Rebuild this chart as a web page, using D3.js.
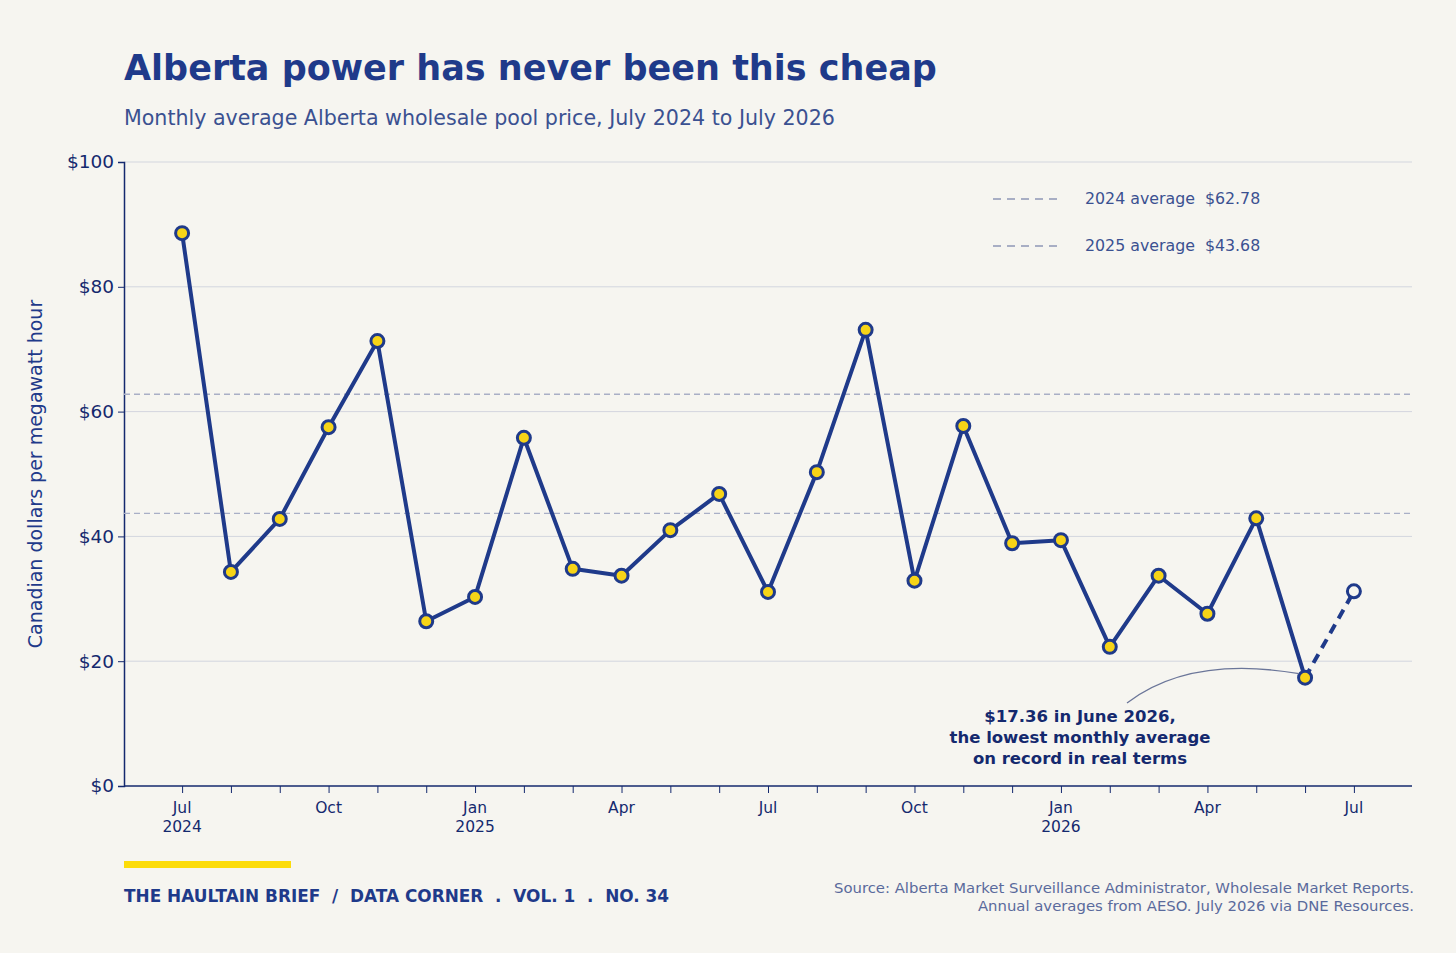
<!DOCTYPE html>
<html><head><meta charset="utf-8">
<script src="https://cdn.jsdelivr.net/npm/d3@7"></script>
<style>
body{margin:0;background:#f6f5f0;}
text{font-family:"DejaVu Sans",sans-serif;white-space:pre;}
</style></head><body>
<svg id="chart" width="1456" height="953"></svg>
<script>
var months = ["Jul","Aug","Sep","Oct","Nov","Dec","Jan","Feb","Mar","Apr","May","Jun",
              "Jul","Aug","Sep","Oct","Nov","Dec","Jan","Feb","Mar","Apr","May","Jun","Jul"];
var years = {0:"2024",6:"2025",18:"2026"};
var prices = [88.6,34.3,42.8,57.5,71.3,26.4,30.3,55.8,34.8,33.7,41.0,46.8,
              31.1,50.3,73.1,32.9,57.7,38.9,39.4,22.3,33.7,27.6,42.9,17.36,31.2];
var averages = [{label:"2024 average  $62.78", value:62.78},{label:"2025 average  $43.68", value:43.68}];
var yTicks = [0,20,40,60,80,100];

var navy = "#1f3a8a", dark = "#14296e";
var svg = d3.select("#chart");
var x = d3.scaleLinear().domain([-1.19, 25.19]).range([124, 1412]);
var y = d3.scaleLinear().domain([0, 100]).range([786, 162]);

svg.append("text").attr("x",124).attr("y",80).attr("fill",navy)
  .attr("font-size",35).attr("font-weight","bold").text("Alberta power has never been this cheap");
svg.append("text").attr("x",124).attr("y",125).attr("fill","#3b5191")
  .attr("font-size",20.6).text("Monthly average Alberta wholesale pool price, July 2024 to July 2026");

// grid
svg.selectAll(".grid").data(yTicks.slice(1)).join("line")
  .attr("x1",124).attr("x2",1412).attr("y1",d=>y(d)).attr("y2",d=>y(d))
  .attr("stroke","#d3d6de").attr("stroke-width",1);

// y axis
var yAxis = svg.append("g").attr("transform","translate(124,0)")
  .call(d3.axisLeft(y).tickValues(yTicks).tickFormat(d=>"$"+d).tickSize(6).tickPadding(4));
yAxis.select(".domain").attr("stroke",dark).attr("stroke-width",1.5);
yAxis.selectAll("line").attr("stroke",dark);
yAxis.selectAll("text").attr("fill",dark).attr("font-size",18.5).attr("font-family","DejaVu Sans");

svg.append("text").attr("transform","translate(42,474) rotate(-90)").attr("text-anchor","middle")
  .attr("fill",navy).attr("font-size",19).text("Canadian dollars per megawatt hour");

// x axis
svg.append("line").attr("x1",124).attr("x2",1412).attr("y1",786).attr("y2",786)
  .attr("stroke",dark).attr("stroke-width",1.5);
var xAxis = svg.append("g").attr("transform","translate(0,786)")
  .call(d3.axisBottom(x).tickValues(d3.range(months.length)).tickSize(7).tickFormat(""));
xAxis.select(".domain").remove();
xAxis.selectAll("line").attr("stroke",dark);
var lab = svg.append("g").selectAll("text").data(d3.range(0,months.length,3)).join("text")
  .attr("x",d=>x(d)).attr("y",813).attr("text-anchor","middle").attr("fill",dark).attr("font-size",15.5);
lab.append("tspan").attr("x",d=>x(d)).text(d=>months[d]);
lab.append("tspan").attr("x",d=>x(d)).attr("dy",19).text(d=>years[d]||"");

// averages
svg.selectAll(".avg").data(averages).join("line")
  .attr("x1",124).attr("x2",1412).attr("y1",d=>y(d.value)).attr("y2",d=>y(d.value))
  .attr("stroke","#a9afc6").attr("stroke-width",1.3).attr("stroke-dasharray","6,4");
var lg = svg.append("g").selectAll("g").data(averages).join("g")
  .attr("transform",(d,i)=>"translate(993,"+(199+i*47)+")");
lg.append("line").attr("x1",0).attr("x2",70).attr("stroke","#8e97b5").attr("stroke-width",1.5).attr("stroke-dasharray","8,6");
lg.append("text").attr("x",92).attr("y",5).attr("fill","#3b5191").attr("font-size",15.8).text(d=>d.label);

// line
var line = d3.line().x((d,i)=>x(i)).y(d=>y(d));
svg.append("path").datum(prices.slice(0,24)).attr("d",line)
  .attr("fill","none").attr("stroke",navy).attr("stroke-width",4).attr("stroke-linejoin","round");
svg.append("path").datum(prices.slice(23)).attr("d",d3.line().x((d,i)=>x(i+23)).y(d=>y(d)))
  .attr("fill","none").attr("stroke",navy).attr("stroke-width",4).attr("stroke-dasharray","10,7");
svg.selectAll(".pt").data(prices).join("circle")
  .attr("cx",(d,i)=>x(i)).attr("cy",d=>y(d)).attr("r",6.5)
  .attr("fill",(d,i)=>i===prices.length-1?"#f6f5f0":"#f7d417")
  .attr("stroke",navy).attr("stroke-width",3);

// annotation
var ax = x(23), ay = y(prices[23]);
svg.append("path").attr("d","M1127,703 Q1190,655 "+(ax-6)+","+(ay-4))
  .attr("fill","none").attr("stroke","#6b7699").attr("stroke-width",1.3);
var ann = svg.append("text").attr("text-anchor","middle").attr("fill",dark)
  .attr("font-size",16.5).attr("font-weight","bold");
["$17.36 in June 2026,","the lowest monthly average","on record in real terms"].forEach(function(t,i){
  ann.append("tspan").attr("x",1080).attr("y",722+i*21).text(t);
});

// footer
svg.append("rect").attr("x",124).attr("y",861).attr("width",167).attr("height",7).attr("fill","#fcdc0a");
svg.append("text").attr("x",124).attr("y",902).attr("fill",navy).attr("font-size",16.9).attr("font-weight","bold")
  .text("THE HAULTAIN BRIEF  /  DATA CORNER  .  VOL. 1  .  NO. 34");
svg.append("text").attr("x",1414).attr("y",893).attr("text-anchor","end").attr("fill","#5a6a9c").attr("font-size",14.85)
  .text("Source: Alberta Market Surveillance Administrator, Wholesale Market Reports.");
svg.append("text").attr("x",1414).attr("y",911).attr("text-anchor","end").attr("fill","#5a6a9c").attr("font-size",14.85)
  .text("Annual averages from AESO. July 2026 via DNE Resources.");
</script></body></html>
